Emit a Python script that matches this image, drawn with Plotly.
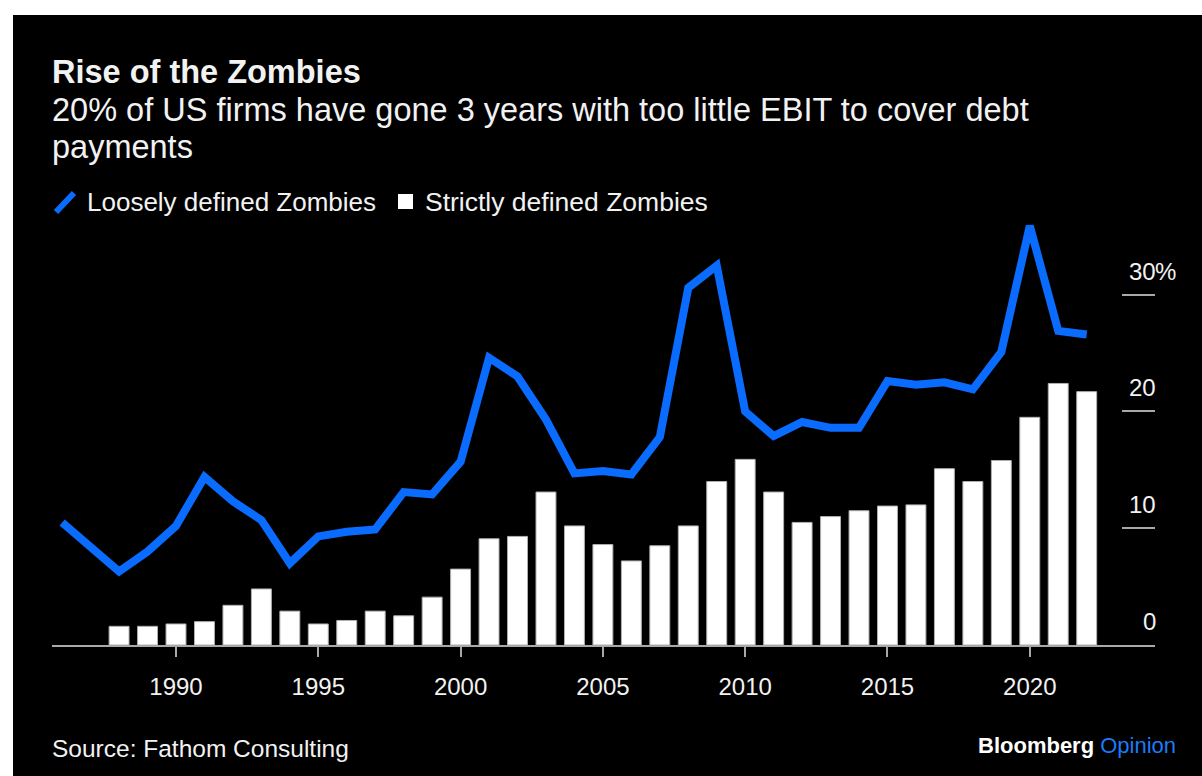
import plotly.graph_objects as go

# ---- data ----
line_years = list(range(1986, 2023))
loosely_defined = [10.5, 8.4, 6.3, 8.0, 10.2, 14.4, 12.3, 10.7, 7.0, 9.3,
                   9.7, 9.9, 13.1, 12.9, 15.7, 24.6, 23.0, 19.3, 14.7, 14.9,
                   14.6, 17.8, 30.6, 32.5, 20.0, 17.9, 19.1, 18.6, 18.6, 22.6,
                   22.3, 22.5, 21.9, 25.1, 35.9, 26.9, 26.6]
bar_years = list(range(1988, 2023))
strictly_defined = [1.6, 1.6, 1.8, 2.0, 3.4, 4.8, 2.9, 1.8, 2.1, 2.9,
                    2.5, 4.1, 6.5, 9.1, 9.3, 13.1, 10.2, 8.6, 7.2, 8.5,
                    10.2, 14.0, 15.9, 13.1, 10.5, 11.0, 11.5, 11.9, 12.0, 15.1,
                    14.0, 15.8, 19.5, 22.4, 21.7]
x_ticks = [1990, 1995, 2000, 2005, 2010, 2015, 2020]
y_ticks = [0, 10, 20, 30]
y_tick_labels = ["0", "10", "20", "30"]

# ---- layout geometry (pixels) ----
W, H = 1202, 776
PL, PR, PT, PB = 52, 1155, 213, 645


def X(px):
    return (px - PL) / (PR - PL)


def Y(py):
    return (PB - py) / (PB - PT)


FONT = "Liberation Sans, Arial, Helvetica, sans-serif"
BLUE = "#0a6cff"
TXT = "#f2f2f2"
GRAY = "#a8a8a8"

fig = go.Figure()
fig.add_trace(go.Bar(x=bar_years, y=strictly_defined, name="Strictly defined Zombies",
                     marker=dict(color="white", line=dict(color="#b0b0b0", width=1)),
                     showlegend=False))
fig.add_trace(go.Scatter(x=line_years, y=loosely_defined, mode="lines",
                         name="Loosely defined Zombies",
                         line=dict(color=BLUE, width=8), showlegend=False))

shapes = [
    # black card background
    dict(type="rect", xref="paper", yref="paper", x0=X(13), x1=X(W + 5),
         y0=Y(H + 5), y1=Y(15), fillcolor="black", line=dict(width=0), layer="below"),
    # legend slash
    dict(type="line", xref="paper", yref="paper", x0=X(56), y0=Y(212), x1=X(74), y1=Y(193),
         line=dict(color=BLUE, width=6)),
    # legend square
    dict(type="rect", xref="paper", yref="paper", x0=X(398), x1=X(413), y0=Y(209), y1=Y(194),
         fillcolor="white", line=dict(width=0)),
]

ann = []
ann.append(dict(text="<b>Rise of the Zombies</b>", x=X(50), y=Y(72), xref="paper", yref="paper",
                xanchor="left", yanchor="middle", showarrow=False,
                font=dict(family=FONT, size=32.5, color=TXT)))
ann.append(dict(text="20% of US firms have gone 3 years with too little EBIT to cover debt",
                x=X(50), y=Y(110), xref="paper", yref="paper", xanchor="left", yanchor="middle",
                showarrow=False, font=dict(family=FONT, size=32.5, color=TXT)))
ann.append(dict(text="payments", x=X(50), y=Y(147), xref="paper", yref="paper",
                xanchor="left", yanchor="middle", showarrow=False,
                font=dict(family=FONT, size=32.5, color=TXT)))
ann.append(dict(text="Loosely defined Zombies", x=X(85), y=Y(202), xref="paper", yref="paper",
                xanchor="left", yanchor="middle", showarrow=False,
                font=dict(family=FONT, size=26, color=TXT)))
ann.append(dict(text="Strictly defined Zombies", x=X(423), y=Y(202), xref="paper", yref="paper",
                xanchor="left", yanchor="middle", showarrow=False,
                font=dict(family=FONT, size=26.5, color=TXT)))
ann.append(dict(text="Source: Fathom Consulting", x=X(50), y=Y(748), xref="paper", yref="paper",
                xanchor="left", yanchor="middle", showarrow=False,
                font=dict(family=FONT, size=24.5, color=TXT)))
ann.append(dict(text="<b>Bloomberg</b> <span style='color:#1a7cf5'>Opinion</span>",
                x=X(1178), y=Y(745), xref="paper", yref="paper", xanchor="right",
                yanchor="middle", showarrow=False,
                font=dict(family=FONT, size=22, color="white")))
for v, lab in zip(y_ticks, y_tick_labels):
    ann.append(dict(text=lab, x=1, y=v, xref="paper", yref="y", xanchor="right",
                    yanchor="bottom", yshift=8, xshift=3, showarrow=False,
                    font=dict(family=FONT, size=24, color=TXT)))
ann.append(dict(text="%", x=1, y=30, xref="paper", yref="y", xanchor="left",
                yanchor="bottom", yshift=8, xshift=-2, showarrow=False,
                font=dict(family=FONT, size=24, color=TXT)))

fig.update_layout(
    width=W, height=H,
    margin=dict(l=PL, r=W - PR, t=PT, b=H - PB, pad=0),
    paper_bgcolor="white", plot_bgcolor="rgba(0,0,0,0)",
    bargap=0.3, showlegend=False,
    shapes=shapes, annotations=ann,
    xaxis=dict(range=[1985.643, 2024.40], tickvals=x_ticks, ticks="outside", ticklen=10,
               tickwidth=1.5, tickcolor=GRAY, showline=True, linecolor=GRAY, linewidth=1.5,
               showgrid=False, zeroline=False, ticklabelstandoff=9,
               tickfont=dict(family=FONT, size=24, color=TXT)),
    yaxis=dict(range=[0, 37], side="right", tickvals=[10, 20, 30], ticks="inside", ticklen=33,
               tickwidth=1.5, tickcolor=GRAY, showticklabels=False, showgrid=False,
               zeroline=False, showline=False),
)

fig.write_html("out.html")
